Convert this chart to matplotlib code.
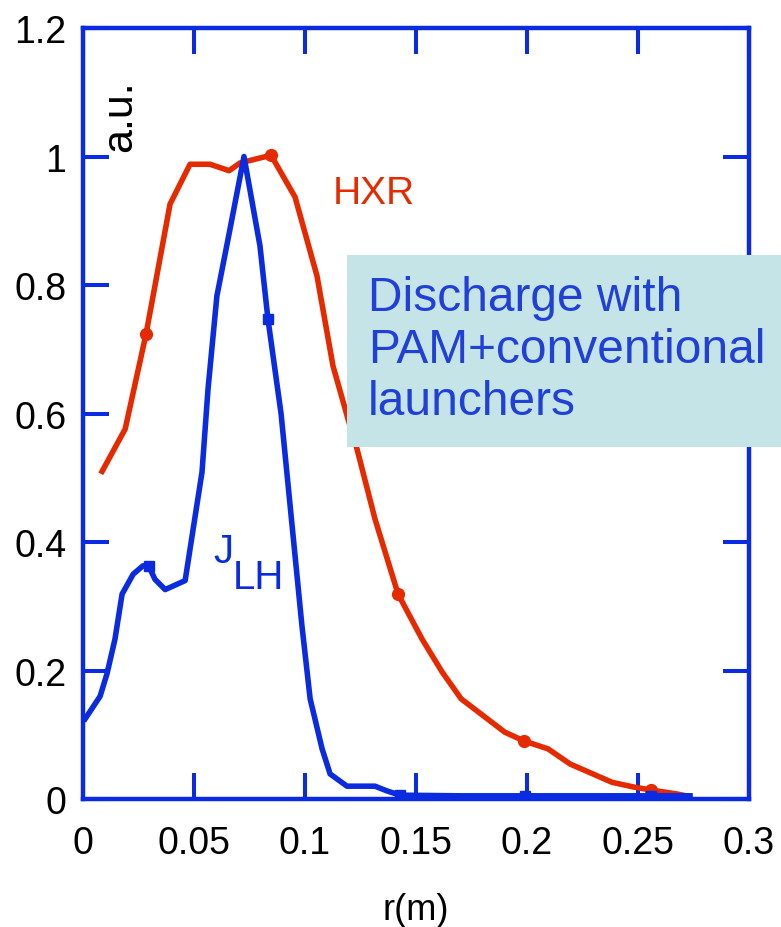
import numpy as np
import matplotlib
matplotlib.use('Agg')
import matplotlib.pyplot as plt
from matplotlib.patches import Rectangle

plt.rcParams['font.family'] = ['Liberation Sans', 'DejaVu Sans']

# HXR profile (red)
r_hxr = [0.0086, 0.019, 0.0284, 0.0392, 0.0482, 0.0572, 0.0658, 0.0707, 0.0847,
         0.0955, 0.1054, 0.1126, 0.1194, 0.1234, 0.1315, 0.1419, 0.1527, 0.1617,
         0.1703, 0.190, 0.1987, 0.2095, 0.2194, 0.2383, 0.248, 0.2559, 0.2676, 0.273]
hxr = [0.51, 0.576, 0.724, 0.926, 0.988, 0.988, 0.978, 0.99, 1.002,
       0.937, 0.814, 0.674, 0.591, 0.545, 0.436, 0.319, 0.249, 0.198,
       0.156, 0.104, 0.0903, 0.078, 0.0545, 0.026, 0.0187, 0.014, 0.0078, 0.004]
hxr_marks = [2, 8, 15, 20, 25]

# J_LH profile (blue)
r_jlh = [0.001, 0.0077, 0.0108, 0.0144, 0.0176, 0.0226, 0.027, 0.0297, 0.0324,
         0.037, 0.046, 0.0536, 0.0563, 0.0603, 0.0662, 0.0725, 0.0797, 0.0833,
         0.0892, 0.0986, 0.1023, 0.1077, 0.1113, 0.1189, 0.1315, 0.137, 0.1428,
         0.17, 0.199, 0.23, 0.2559, 0.2734]
jlh = [0.125, 0.16, 0.195, 0.249, 0.319, 0.35, 0.363, 0.362, 0.342,
       0.326, 0.34, 0.509, 0.638, 0.783, 0.887, 1.0, 0.861, 0.747,
       0.60, 0.27, 0.156, 0.078, 0.039, 0.02, 0.02, 0.0125, 0.006,
       0.005, 0.005, 0.005, 0.005, 0.005]
jlh_marks = [7, 17, 26, 28, 30]

blue = '#0a2be0'
red = '#e62a00'

fig = plt.figure(figsize=(7.81, 9.28), dpi=100)
ax = fig.add_axes([0.1063, 0.1379, 0.8528, 0.8308])

ax.plot(r_hxr, hxr, color=red, lw=4, marker='o', ms=8.5, markevery=hxr_marks)
ax.plot(r_jlh, jlh, color=blue, lw=4, marker='s', ms=7.5, markevery=jlh_marks)

ax.set_xlim(0, 0.3)
ax.set_ylim(0, 1.2)
ax.set_xticks(np.arange(0, 0.31, 0.05))
ax.set_xticklabels(['0', '0.05', '0.1', '0.15', '0.2', '0.25', '0.3'])
ax.set_yticks(np.arange(0, 1.21, 0.2))
ax.set_yticklabels(['0', '0.2', '0.4', '0.6', '0.8', '1', '1.2'])

for s in ax.spines.values():
    s.set_color(blue)
    s.set_linewidth(3.2)
ax.tick_params(direction='in', top=True, right=True, length=18.7, width=2.9,
               color=blue, labelsize=27)
ax.tick_params(axis='x', pad=19)
ax.tick_params(axis='y', pad=12)

ax.set_xlabel('r(m)', fontsize=26, labelpad=22)

ax.text(0.1126, 0.928, 'HXR', color=red, fontsize=28, ha='left', va='baseline')
ax.text(0.0586, 0.369, 'J', color=blue, fontsize=29, ha='left', va='baseline')
ax.text(0.0676, 0.328, 'LH', color=blue, fontsize=29, ha='left', va='baseline')
ax.text(0.0167, 1.065, 'a.u.', color='black', fontsize=31, rotation=90,
        ha='center', va='center')

# note box
fig.patches.append(Rectangle((0.4443, 0.5172), 0.5557, 0.2069,
                             transform=fig.transFigure, facecolor='#c5e4e8',
                             edgecolor='none', zorder=5))
fig.text(368 / 781, 0.7026, 'Discharge with\nPAM+conventional\nlaunchers',
         color='#2040d8', fontsize=34.5, ha='left', va='top', linespacing=1.2,
         zorder=6)

fig.savefig('out.png', dpi=100)
